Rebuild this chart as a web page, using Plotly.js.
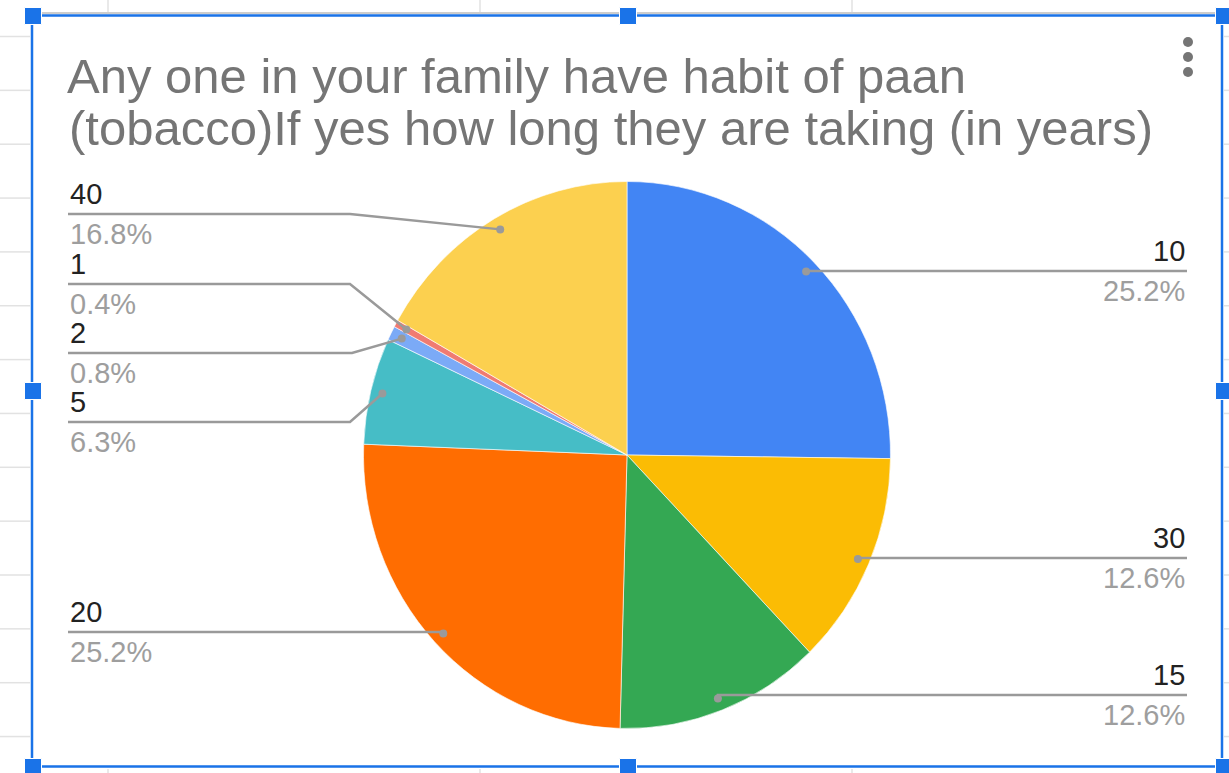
<!DOCTYPE html>
<html>
<head>
<meta charset="utf-8">
<script src="https://cdn.plot.ly/plotly-3.0.1.min.js"></script>
<style>
  html, body { margin: 0; padding: 0; background: #ffffff; }
  #chart { width: 1229px; height: 773px; }
</style>
</head>
<body>
<div id="chart"></div>
<script>
// Years of paan (tobacco) use in the family, slice order clockwise from 12 o'clock
const labels = ['10', '30', '15', '20', '5', '2', '1', '40'];
const values = [60, 30, 30, 60, 15, 2, 1, 40];
const sliceColors = ['#4285F4', '#FBBC04', '#34A853', '#FF6D01', '#46BDC6', '#7BAAF7', '#F07B72', '#FCD04F'];

const titleLines = [
  'Any one in your family have habit of paan',
  '(tobacco)If yes how long they are taking (in years)'
];

// Page geometry (pixels)
const W = 1229, H = 773;
const CX = 627, CY = 455;          // pie centre
const RX = 263.5, RY = 273.5;      // pie radii (slightly taller than wide)
const DOT_K = 0.955;               // leader dot position as share of the radius

// Where each label sits: side of the chart, y of its underline, elbow x
const labelPlacement = {
  '10': { side: 'right', lineY: 271 },
  '30': { side: 'right', lineY: 558 },
  '15': { side: 'right', lineY: 695 },
  '20': { side: 'left',  lineY: 632 },
  '5':  { side: 'left',  lineY: 422, bendX: 350 },
  '2':  { side: 'left',  lineY: 353, bendX: 352 },
  '1':  { side: 'left',  lineY: 284, bendX: 350 },
  '40': { side: 'left',  lineY: 214, bendX: 350 }
};
const LEFT_X = 68, RIGHT_X = 1187;

const px = x => x / W;
const py = y => 1 - y / H;

const total = values.reduce((a, b) => a + b, 0);

const shapes = [];
const annotations = [];
const LEADER = '#9a9a9a';

// Leader lines, dots and labels for each slice
let cum = 0;
labels.forEach((lab, i) => {
  const v = values[i];
  const mid = (cum + v / 2) / total * 2 * Math.PI;
  cum += v;
  const dx = CX + RX * DOT_K * Math.sin(mid);
  const dy = CY - RY * DOT_K * Math.cos(mid);
  const pl = labelPlacement[lab];
  const endX = pl.side === 'left' ? LEFT_X : RIGHT_X;
  const bendX = pl.bendX !== undefined ? pl.bendX : dx;

  const path = 'M' + px(endX) + ',' + py(pl.lineY) +
               ' L' + px(bendX) + ',' + py(pl.lineY) +
               ' L' + px(dx) + ',' + py(dy);
  shapes.push({
    type: 'path', xref: 'paper', yref: 'paper', path: path,
    line: { color: LEADER, width: 2.5 }
  });
  const r = 4;
  shapes.push({
    type: 'circle', xref: 'paper', yref: 'paper',
    x0: px(dx - r), x1: px(dx + r), y0: py(dy + r), y1: py(dy - r),
    fillcolor: LEADER, line: { width: 0 }
  });

  const pct = (v / total * 100).toFixed(1) + '%';
  const anchor = pl.side === 'left' ? 'left' : 'right';
  annotations.push({
    xref: 'paper', yref: 'paper', x: px(endX), y: py(pl.lineY - 2),
    xanchor: anchor, yanchor: 'bottom', showarrow: false, text: lab,
    font: { family: 'Liberation Sans, Arial, sans-serif', size: 29, color: '#222222' }
  });
  annotations.push({
    xref: 'paper', yref: 'paper', x: px(endX), y: py(pl.lineY + 2),
    xanchor: anchor, yanchor: 'top', showarrow: false, text: pct,
    font: { family: 'Liberation Sans, Arial, sans-serif', size: 29, color: '#9e9e9e' }
  });
});

// Second title line (the first is layout.title)
annotations.push({
  xref: 'paper', yref: 'paper', x: px(67), y: py(156.5),
  xanchor: 'left', yanchor: 'bottom', showarrow: false, text: titleLines[1],
  font: { family: 'Liberation Sans, Arial, sans-serif', size: 49, color: '#757575' }
});

// Spreadsheet backdrop: grid lines outside the chart frame
const GRID = '#e2e2e2';
for (let i = 0; i < 14; i++) {
  const gy = 36.5 + 53.85 * i;
  shapes.push({ type: 'line', xref: 'paper', yref: 'paper', layer: 'below',
    x0: px(0), x1: px(30), y0: py(gy), y1: py(gy), line: { color: GRID, width: 1.5 } });
  shapes.push({ type: 'line', xref: 'paper', yref: 'paper', layer: 'below',
    x0: px(1224), x1: px(1229), y0: py(gy), y1: py(gy), line: { color: GRID, width: 1.5 } });
}
[108, 480, 852].forEach(gx => {
  shapes.push({ type: 'line', xref: 'paper', yref: 'paper', layer: 'below',
    x0: px(gx), x1: px(gx), y0: py(0), y1: py(12), line: { color: GRID, width: 1.5 } });
  shapes.push({ type: 'line', xref: 'paper', yref: 'paper', layer: 'below',
    x0: px(gx), x1: px(gx), y0: py(769), y1: py(773), line: { color: GRID, width: 1.5 } });
});

// Selection frame with handles
const FRAME = '#1a73e8';
shapes.push({ type: 'line', xref: 'paper', yref: 'paper',
  x0: px(33), x1: px(1222), y0: py(13), y1: py(13), line: { color: '#bdbdbd', width: 1.5 } });
shapes.push({ type: 'rect', xref: 'paper', yref: 'paper',
  x0: px(32), x1: px(1222), y0: py(766.5), y1: py(15.5),
  line: { color: FRAME, width: 2.5 }, fillcolor: 'rgba(0,0,0,0)' });
[[33, 16], [628, 16], [1224, 16], [33, 391], [1224, 391], [33, 767], [628, 767], [1224, 767]]
  .forEach(([hx, hy]) => {
    shapes.push({ type: 'rect', xref: 'paper', yref: 'paper',
      x0: px(hx - 8.5), x1: px(hx + 8.5), y0: py(hy + 8.5), y1: py(hy - 8.5),
      fillcolor: FRAME, line: { color: '#ffffff', width: 1 } });
  });

// Overflow menu dots
[42, 57, 72].forEach(my => {
  shapes.push({ type: 'circle', xref: 'paper', yref: 'paper',
    x0: px(1188 - 5), x1: px(1188 + 5), y0: py(my + 5), y1: py(my - 5),
    fillcolor: '#757575', line: { width: 0 } });
});

const R0 = RX;
const data = [{
  type: 'pie',
  labels: labels,
  values: values,
  sort: false,
  direction: 'clockwise',
  rotation: 0,
  textinfo: 'none',
  hoverinfo: 'none',
  showlegend: false,
  marker: { colors: sliceColors, line: { color: '#ffffff', width: 0.6 } },
  domain: {
    x: [px(CX - R0), px(CX + R0)],
    y: [py(CY + R0), py(CY - R0)]
  }
}];

const layout = {
  width: W, height: H,
  margin: { l: 0, r: 0, t: 0, b: 0 },
  paper_bgcolor: '#ffffff',
  plot_bgcolor: '#ffffff',
  title: {
    text: titleLines[0],
    x: px(67), xref: 'paper', xanchor: 'left',
    y: py(92.5), yref: 'paper', yanchor: 'bottom',
    pad: { t: 0, b: 0, l: 0, r: 0 },
    font: { family: 'Liberation Sans, Arial, sans-serif', size: 49, color: '#757575' }
  },
  shapes: shapes,
  annotations: annotations
};

Plotly.newPlot('chart', data, layout, { staticPlot: true, displayModeBar: false }).then(gd => {
  // Stretch the pie vertically so it is an ellipse of RX by RY
  const layer = gd.querySelector('.pielayer');
  if (layer) {
    const s = RY / RX;
    layer.setAttribute('transform',
      'translate(0,' + CY + ') scale(1,' + s + ') translate(0,' + (-CY) + ')');
  }
});
</script>
</body>
</html>
